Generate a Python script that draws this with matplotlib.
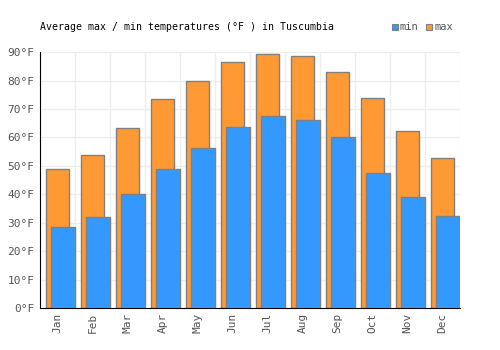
import matplotlib
matplotlib.use("Agg")
import matplotlib.pyplot as plt
import numpy as np

months = ["Jan", "Feb", "Mar", "Apr", "May", "Jun", "Jul", "Aug", "Sep", "Oct", "Nov", "Dec"]
t_max = [48.8, 53.7, 63.3, 73.5, 79.8, 86.5, 89.2, 88.5, 82.9, 73.7, 62.2, 52.7]
t_min = [28.4, 31.9, 40.1, 48.9, 56.3, 63.6, 67.5, 66.1, 60.1, 47.5, 39.0, 32.3]

plt.rcParams['font.family'] = ['DejaVu Sans Mono']

fig = plt.figure(figsize=(5, 3.5), dpi=100)
ax = fig.add_axes([0.08, 0.12, 0.84, 0.731])

x = np.arange(len(months))
ax.bar(x + 0.005, t_max, width=0.67, color='#ff9933', edgecolor='#808080', linewidth=1, zorder=2)
ax.bar(x + 0.155, t_min, width=0.69, color='#3399ff', edgecolor='#808080', linewidth=1, zorder=3)

ax.set_xlim(-0.5, 11.5)
ax.set_ylim(0, 90)
ax.set_yticks(range(0, 91, 10))
ax.set_yticklabels([f"{v}°F" for v in range(0, 91, 10)])
ax.set_xticks(x)
ax.set_xticklabels(months, rotation=90)
ax.set_xticks(np.arange(-0.5, 12, 1), minor=True)
ax.tick_params(axis='both', which='both', length=0, labelsize=8, colors='#555555')
ax.tick_params(axis='y', pad=4)
ax.grid(True, which='minor', axis='x', color='#eeeeee', linewidth=1, zorder=0)
ax.grid(True, which='major', axis='y', color='#eeeeee', linewidth=1, zorder=0)
ax.set_axisbelow(True)

for s in ['top', 'right']:
    ax.spines[s].set_visible(False)
ax.spines['left'].set_color('black')
ax.spines['bottom'].set_color('black')

fig.text(0.08, 0.922, "Average max / min temperatures (°F ) in Tuscumbia", fontsize=7.1, color='black', va='center')

# legend
fig.patches.append(plt.Rectangle((0.783, 0.913), 0.012, 0.017, transform=fig.transFigure,
                                 facecolor='#3399ff', edgecolor='#808080', linewidth=0.8))
fig.text(0.8, 0.922, "min", fontsize=7.5, color='#555555', va='center')
fig.patches.append(plt.Rectangle((0.852, 0.913), 0.012, 0.017, transform=fig.transFigure,
                                 facecolor='#ff9933', edgecolor='#808080', linewidth=0.8))
fig.text(0.869, 0.922, "max", fontsize=7.5, color='#555555', va='center')

fig.savefig("out.png", dpi=100)
